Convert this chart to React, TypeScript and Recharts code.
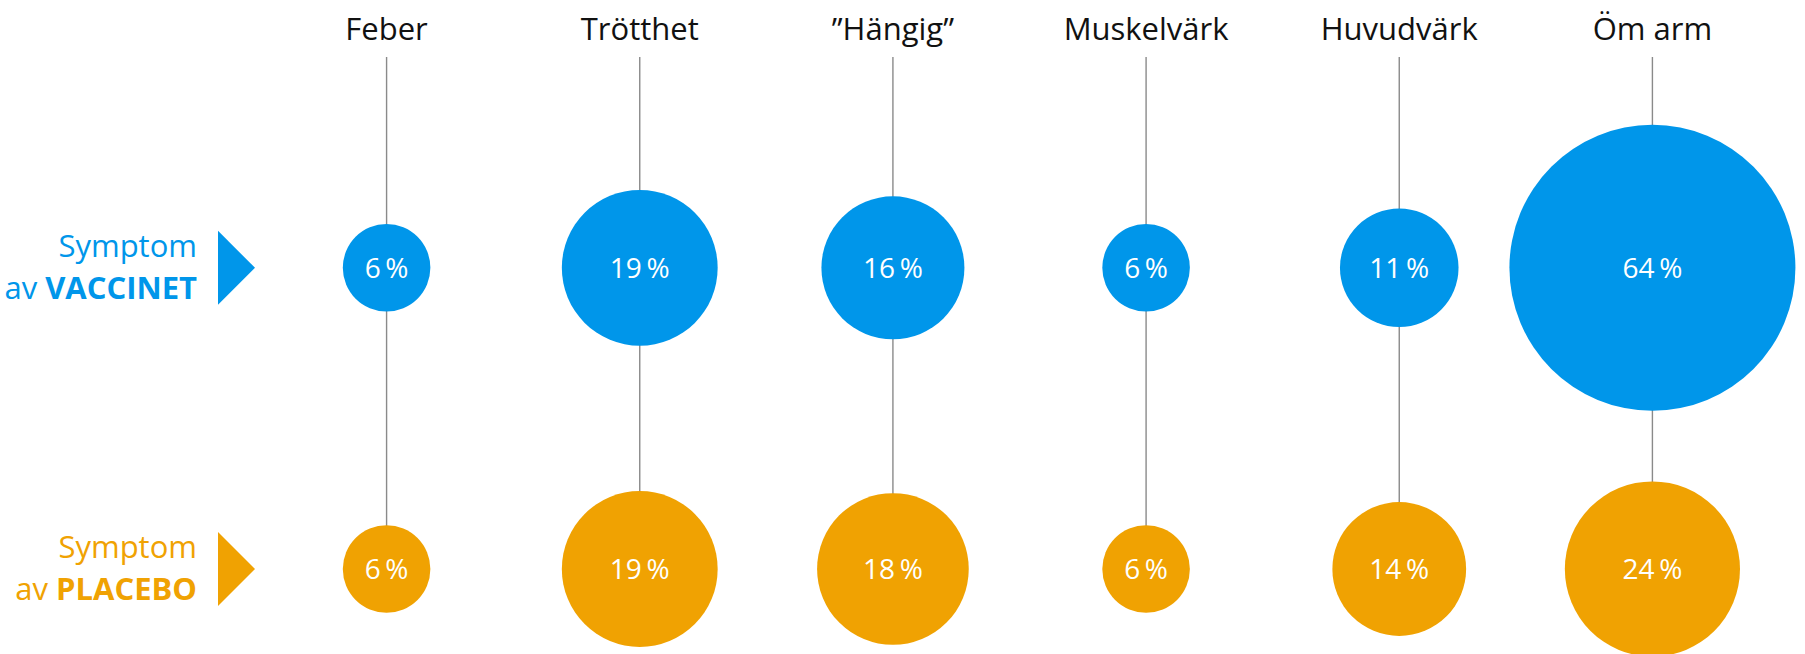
import React from 'react';
import { ScatterChart, Scatter, XAxis, YAxis, ZAxis, ReferenceLine } from 'recharts';

const categories = ['Feber', 'Trötthet', '\u201DHängig\u201D', 'Muskelvärk', 'Huvudvärk', 'Öm arm'];
const vaccineValues = [6, 19, 16, 6, 11, 64];
const placeboValues = [6, 19, 18, 6, 14, 24];
// row 0 = placebo, row 1 = vaccine
const rowNames = ['PLACEBO', 'VACCINET'];

const BLUE = '#0096ea';
const ORANGE = '#f0a202';
const FONT = '"Open Sans", sans-serif';
const LINE_TOP = 1.7; // where the connector lines start, in row units
const MAX_R = 143;
const maxValue = Math.max(...vaccineValues, ...placeboValues);

const vaccineData = categories.map((cat, i) => ({ cat, row: 1, value: vaccineValues[i] }));
const placeboData = categories.map((cat, i) => ({ cat, row: 0, value: placeboValues[i] }));

// bubble area ~ value (ZAxis range is an area)
const Bubble = (props: any) => {
  const { cx, cy, size, width, fill, payload } = props;
  const r = size != null ? Math.sqrt(size / Math.PI) : width / 2;
  return (
    <g>
      <circle cx={cx} cy={cy} r={r} fill={fill} />
      <text x={cx} y={cy} dy={10} textAnchor="middle" fill="#fff" fontSize={28} fontFamily={FONT}>
        {payload.value}{'\u2009'}%
      </text>
    </g>
  );
};

const CategoryTick = ({ x, payload }: any) => (
  <text x={x} y={40} textAnchor="middle" fontSize={31} fill="#111" fontFamily={FONT}>
    {payload.value}
  </text>
);

const RowTick = (props: any) => {
  const y = Number(props.y);
  const row = props.payload.value;
  const color = row === 1 ? BLUE : ORANGE;
  return (
    <g>
      <text x={197} y={y - 11} textAnchor="end" fontSize={31} fill={color} fontFamily={FONT}>
        Symptom
      </text>
      <text x={197} y={y + 31} textAnchor="end" fontSize={31} fill={color} fontFamily={FONT}>
        av <tspan fontWeight={700}>{rowNames[row]}</tspan>
      </text>
      <path d={`M218 ${y - 37} L255 ${y} L218 ${y + 37} Z`} fill={color} />
    </g>
  );
};

export default function App() {
  return (
    <div>
      <style>{'body{margin:0}'}</style>
      <ScatterChart width={1805} height={654} margin={{ top: 0, right: 26, bottom: 0, left: 0 }}>
        <XAxis
          orientation="top"
          type="category"
          dataKey="cat"
          allowDuplicatedCategory={false}
          height={57}
          axisLine={false}
          tickLine={false}
          interval={0}
          tick={<CategoryTick />}
        />
        <YAxis
          type="number"
          dataKey="row"
          domain={[0, LINE_TOP]}
          ticks={[0, 1]}
          padding={{ top: 0, bottom: 85 }}
          width={260}
          axisLine={false}
          tickLine={false}
          interval={0}
          tick={<RowTick />}
        />
        <ZAxis dataKey="value" domain={[0, maxValue]} range={[0, Math.PI * MAX_R * MAX_R]} />
        {categories.map((cat) => (
          <ReferenceLine
            key={cat}
            segment={[{ x: cat, y: 0 }, { x: cat, y: LINE_TOP }]}
            stroke="#8a8a8a"
            strokeWidth={1.4}
            ifOverflow="visible"
          />
        ))}
        <Scatter data={vaccineData} fill={BLUE} shape={<Bubble />} isAnimationActive={false} />
        <Scatter data={placeboData} fill={ORANGE} shape={<Bubble />} isAnimationActive={false} />
      </ScatterChart>
    </div>
  );
}
